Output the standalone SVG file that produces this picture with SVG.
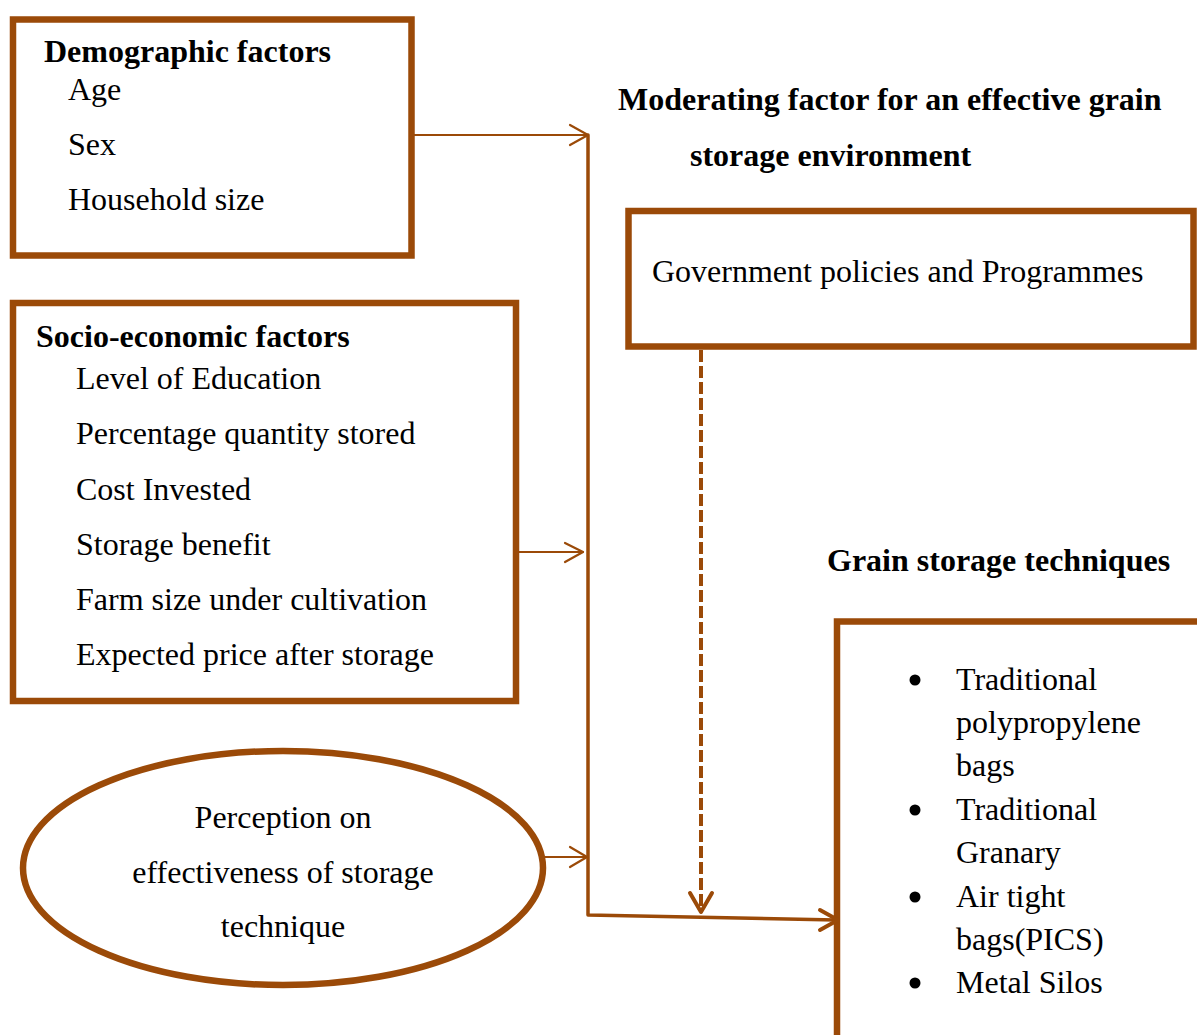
<svg xmlns="http://www.w3.org/2000/svg" width="1197" height="1035" viewBox="0 0 1197 1035">
<style>
.box{fill:#fff;stroke:#9B4A08;stroke-width:6.5}
.t{font-family:"Liberation Serif","Times New Roman",serif;font-size:32px;fill:#000}
.b{font-weight:bold}
.ln{fill:none;stroke:#9B4A08;stroke-linecap:round;stroke-linejoin:round}
</style>
<rect width="1197" height="1035" fill="#fff"/>
<g id="demographic">
<rect class="box" x="13" y="19.5" width="398.5" height="236"/>
<text class="t b" x="44" y="62">Demographic factors</text>
<text class="t" x="68" y="100">Age</text>
<text class="t" x="68" y="155">Sex</text>
<text class="t" x="68" y="210">Household size</text>
</g>
<g id="socioeconomic">
<rect class="box" x="13" y="303" width="503" height="398"/>
<text class="t b" x="36" y="347">Socio-economic factors</text>
<text class="t" x="76" y="389">Level of Education</text>
<text class="t" x="76" y="444">Percentage quantity stored</text>
<text class="t" x="76" y="500">Cost Invested</text>
<text class="t" x="76" y="555">Storage benefit</text>
<text class="t" x="76" y="610">Farm size under cultivation</text>
<text class="t" x="76" y="665">Expected price after storage</text>
</g>
<g id="perception">
<ellipse class="box" cx="283" cy="868" rx="260" ry="117" stroke-width="5"/>
<text class="t" x="283" y="828" text-anchor="middle">Perception on</text>
<text class="t" x="283" y="883" text-anchor="middle">effectiveness of storage</text>
<text class="t" x="283" y="937" text-anchor="middle">technique</text>
</g>
<g id="moderating-title">
<text class="t b" x="618" y="110">Moderating factor for an effective grain</text>
<text class="t b" x="690" y="166">storage environment</text>
</g>
<g id="government">
<rect class="box" x="628.5" y="211" width="565" height="135.5"/>
<text class="t" x="652" y="282">Government policies and Programmes</text>
</g>
<g id="techniques-title">
<text class="t b" x="827" y="571">Grain storage techniques</text>
</g>
<g id="techniques">
<rect class="box" x="837" y="621.5" width="400" height="500"/>
<circle cx="915" cy="680" r="5.5"/>
<circle cx="915" cy="810" r="5.5"/>
<circle cx="915" cy="897" r="5.5"/>
<circle cx="915" cy="983" r="5.5"/>
<text class="t" x="956" y="690">Traditional</text>
<text class="t" x="956" y="733">polypropylene</text>
<text class="t" x="956" y="776">bags</text>
<text class="t" x="956" y="820">Traditional</text>
<text class="t" x="956" y="863">Granary</text>
<text class="t" x="956" y="907">Air tight</text>
<text class="t" x="956" y="950">bags(PICS)</text>
<text class="t" x="956" y="993">Metal Silos</text>
</g>
<g id="connectors">
<line class="ln" x1="414" y1="135" x2="588" y2="135" stroke-width="2"/>
<polyline class="ln" points="570,125 588,135 570,145" stroke-width="2.2"/>
<line class="ln" x1="519" y1="552" x2="583" y2="552" stroke-width="2"/>
<polyline class="ln" points="565,543 583,552 565,562" stroke-width="2.2"/>
<line class="ln" x1="545" y1="857" x2="587" y2="857" stroke-width="2"/>
<polyline class="ln" points="570,847 587,857 570,867" stroke-width="2.2"/>
<polyline class="ln" points="588,135 588,915 836,920" stroke-width="3.5"/>
<polyline class="ln" points="820,910 838,920 820,930" stroke-width="4"/>
<line x1="701" y1="350" x2="701" y2="910" stroke="#9B4A08" stroke-width="4" stroke-dasharray="12,4"/>
<polyline class="ln" points="690,893 701,912 712,893" stroke-width="4"/>
</g>
</svg>
